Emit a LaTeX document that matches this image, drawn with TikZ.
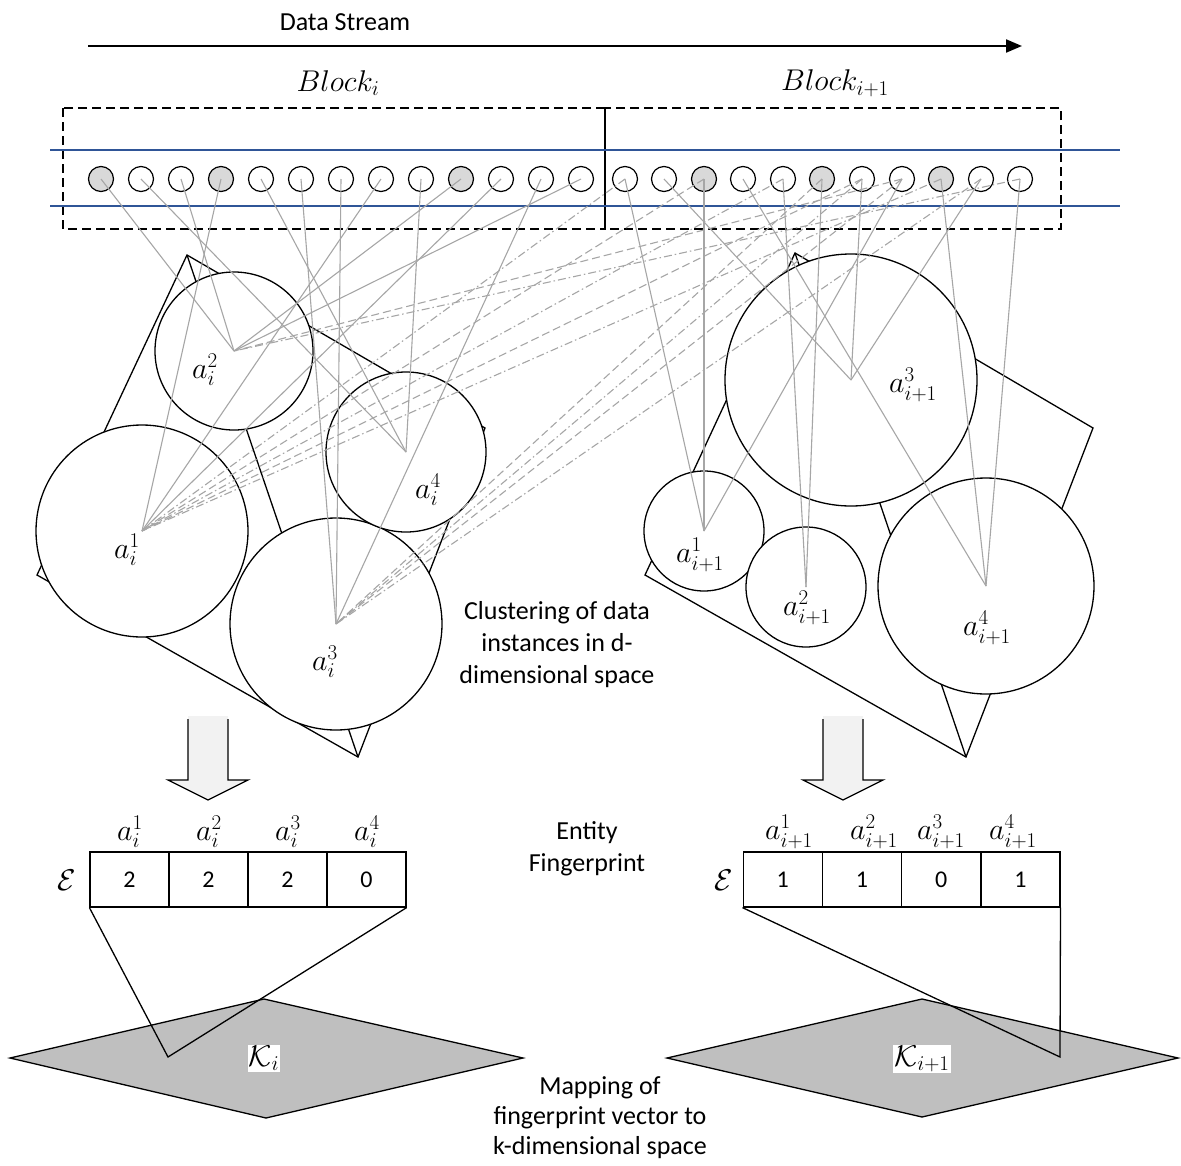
\RequirePackage{fix-cm}
\documentclass[tikz,border=0pt]{standalone}
\usepackage[no-math]{fontspec}
\setmainfont{Carlito}
\usetikzlibrary{arrows.meta,positioning}

\definecolor{linegray}{RGB}{166,166,166}
\definecolor{entgray}{RGB}{217,217,217}
\definecolor{kgray}{RGB}{191,191,191}
\definecolor{arrgray}{RGB}{242,242,242}
\definecolor{lineblue}{RGB}{47,85,151}

\begin{document}
\begin{tikzpicture}[x=1pt, y=-1pt, thick]

		\tikzstyle{inst}=[circle, draw, line width=1.2pt, fill=white, minimum size=25pt, inner sep=0pt]
		\tikzstyle{entity}=[inst, fill=entgray]
		\tikzstyle{clu}=[circle, draw, line width=1.3pt, fill=white, inner sep=0pt, outer sep=0pt]
		\tikzstyle{link}=[linegray, line width=1.1pt]
		\tikzstyle{maplink}=[linegray, line width=1.1pt, dash pattern=on 8pt off 4pt]
		\tikzstyle{mapdot}=[linegray, line width=1.1pt, dash pattern=on 8pt off 3pt on 1.5pt off 3pt]
		\tikzstyle{cell}=[rectangle, draw, line width=1.2pt, minimum width=79pt, minimum height=55pt, inner sep=0pt, font=\fontsize{24}{28}\selectfont]
		\tikzstyle{lab}=[inner sep=1pt, font=\fontsize{30}{34}\selectfont]
		\tikzstyle{txt}=[align=center, inner sep=0pt, font=\fontsize{26}{32}\selectfont]
		\tikzstyle{frame}=[line width=1.4pt, dash pattern=on 9pt off 5pt]

		\useasboundingbox (0,0) rectangle (1181,1165);

		% Stream arrow
		\node[txt] (ds) at (345,22) {Data Stream};
		\coordinate (s0) at (88,46);
		\coordinate (s1) at (1022,46);
		\draw[-{Triangle[length=16pt,width=13pt]}, line width=2pt] (s0) -- (s1);

		\node[lab] (b1) at (338,83) {$Block_i$};
		\node[lab] (b2) at (835,83) {$Block_{i+1}$};

		\draw[frame] (63,108) rectangle (605,229);
		\draw[frame] (605,108) rectangle (1061,229);
		\draw[lineblue, line width=1.2pt] (50,150) -- (1120,150);
		\draw[lineblue, line width=1.2pt] (50,206) -- (1120,206);

		% Block i instances
		\node[entity] (p1) at (101,179) {};
		\node[inst] (p2) at (141,179) {};
		\node[inst] (p3) at (181,179) {};
		\node[entity] (p4) at (221,179) {};
		\node[inst] (p5) at (261,179) {};
		\node[inst] (p6) at (301,179) {};
		\node[inst] (p7) at (341,179) {};
		\node[inst] (p8) at (381,179) {};
		\node[inst] (p9) at (421,179) {};
		\node[entity] (p10) at (461,179) {};
		\node[inst] (p11) at (501,179) {};
		\node[inst] (p12) at (541,179) {};
		\node[inst] (p13) at (581,179) {};

		% Block i+1 instances
		\node[inst] (q1) at (625,179) {};
		\node[inst] (q2) at (664,179) {};
		\node[entity] (q3) at (704,179) {};
		\node[inst] (q4) at (743,179) {};
		\node[inst] (q5) at (783,179) {};
		\node[entity] (q6) at (822,179) {};
		\node[inst] (q7) at (862,179) {};
		\node[inst] (q8) at (902,179) {};
		\node[entity] (q9) at (941,179) {};
		\node[inst] (q10) at (981,179) {};
		\node[inst] (q11) at (1020,179) {};

		% Cluster hulls
		\draw[line width=1.3pt] (187,255) -- (485,428) -- (358,757) -- (37,575) -- cycle;
		\draw[line width=1.3pt] (187,255) -- (358,757);
		\draw[line width=1.3pt] (795,253) -- (1093,428) -- (966,757) -- (645,575) -- cycle;
		\draw[line width=1.3pt] (795,253) -- (966,757);

		% Clusters of block i
		\node[clu, minimum size=212pt] (c1) at (142,531) {};
		\node[clu, minimum size=158pt] (c2) at (234,351) {};
		\node[clu, minimum size=212pt] (c3) at (336,624) {};
		\node[clu, minimum size=160pt] (c4) at (406,452) {};

		% Clusters of block i+1
		\node[clu, minimum size=120pt] (d1) at (704,531) {};
		\node[clu, minimum size=120pt] (d2) at (806,587) {};
		\node[clu, minimum size=252pt] (d3) at (851,380) {};
		\node[clu, minimum size=216pt] (d4) at (986,586) {};

		% Assignment links
		\draw[link] (p1.center) -- (c2.center);
		\draw[link] (p2.center) -- (c4.center);
		\draw[link] (p3.center) -- (c2.center);
		\draw[link] (p4.center) -- (c1.center);
		\draw[link] (p5.center) -- (c4.center);
		\draw[link] (p6.center) -- (c3.center);
		\draw[link] (p7.center) -- (c3.center);
		\draw[link] (p8.center) -- (c1.center);
		\draw[link] (p9.center) -- (c4.center);
		\draw[link] (p10.center) -- (c2.center);
		\draw[link] (p11.center) -- (c1.center);
		\draw[link] (p12.center) -- (c3.center);
		\draw[link] (p13.center) -- (c2.center);

		\draw[link] (q1.center) -- (d1.center);
		\draw[link] (q2.center) -- (d3.center);
		\draw[link] (q3.center) -- (d1.center);
		\draw[link] (q4.center) -- (d4.center);
		\draw[link] (q5.center) -- (d2.center);
		\draw[link] (q6.center) -- (d2.center);
		\draw[link] (q7.center) -- (d3.center);
		\draw[link] (q8.center) -- (d1.center);
		\draw[link] (q9.center) -- (d4.center);
		\draw[link] (q10.center) -- (d3.center);
		\draw[link] (q11.center) -- (d4.center);

		% Block i+1 mapped on clusters of block i
		\draw[mapdot] (q1.center) -- (c1.center);
		\draw[maplink] (q3.center) -- (c1.center);
		\draw[mapdot] (q5.center) -- (c1.center);
		\draw[maplink] (q7.center) -- (c1.center);
		\draw[mapdot] (q9.center) -- (c1.center);
		\draw[maplink] (q8.center) -- (c2.center);
		\draw[mapdot] (q11.center) -- (c2.center);
		\draw[maplink] (q6.center) -- (c3.center);
		\draw[mapdot] (q7.center) -- (c3.center);
		\draw[maplink] (q8.center) -- (c3.center);
		\draw[mapdot] (q10.center) -- (c3.center);

		% Cluster labels
		\node[lab] (l1) at (127,550) {$a_i^1$};
		\node[lab] (l2) at (205,370) {$a_i^2$};
		\node[lab] (l3) at (325,662) {$a_i^3$};
		\node[lab] (l4) at (428,490) {$a_i^4$};
		\node[lab] (m1) at (700,555) {$a_{i+1}^1$};
		\node[lab] (m2) at (807,608) {$a_{i+1}^2$};
		\node[lab] (m3) at (913,385) {$a_{i+1}^3$};
		\node[lab] (m4) at (987,628) {$a_{i+1}^4$};

		\node[txt] (cl) at (557,645) {Clustering of data\\instances in d-\\dimensional space};

		% Block arrows
		\fill[arrgray] (188,716) -- (188,780) -- (168,780) -- (208,800) -- (248,780) -- (228,780) -- (228,716) -- cycle;
		\draw[line width=1.3pt] (188,719) -- (188,780) -- (168,780) -- (208,800) -- (248,780) -- (228,780) -- (228,719);
		\fill[arrgray] (823,716) -- (823,780) -- (803,780) -- (843,800) -- (883,780) -- (863,780) -- (863,716) -- cycle;
		\draw[line width=1.3pt] (823,719) -- (823,780) -- (803,780) -- (843,800) -- (883,780) -- (863,780) -- (863,719);

		% Fingerprints
		\node[cell] (e1) at (129.5,879.5) {2};
		\node[cell] (e2) at (208.5,879.5) {2};
		\node[cell] (e3) at (287.5,879.5) {2};
		\node[cell] (e4) at (366.5,879.5) {0};
		\node[lab] (h1) at (130,832) {$a_i^1$};
		\node[lab] (h2) at (209,832) {$a_i^2$};
		\node[lab] (h3) at (288,832) {$a_i^3$};
		\node[lab] (h4) at (367,832) {$a_i^4$};
		\node[lab] (E1) at (67,880) {$\mathcal{E}$};

		\node[cell] (f1) at (782.6,879.5) {1};
		\node[cell] (f2) at (861.9,879.5) {1};
		\node[cell] (f3) at (941.1,879.5) {0};
		\node[cell] (f4) at (1020.4,879.5) {1};
		\node[lab] (g1) at (789,832) {$a_{i+1}^1$};
		\node[lab] (g2) at (874,832) {$a_{i+1}^2$};
		\node[lab] (g3) at (941,832) {$a_{i+1}^3$};
		\node[lab] (g4) at (1013,832) {$a_{i+1}^4$};
		\node[lab] (E2) at (724,880) {$\mathcal{E}$};

		\node[txt] (ef) at (587,849) {Entity\\Fingerprint};

		% k-dimensional spaces
		\filldraw[fill=kgray, line width=1.3pt] (10,1058) -- (264,999) -- (523,1058) -- (266,1118) -- cycle;
		\filldraw[fill=kgray, line width=1.3pt] (667,1058) -- (922,999) -- (1178,1058) -- (922,1117) -- cycle;
		\node[lab, fill=white] (K1) at (264,1058) {$\mathcal{K}_i$};
		\node[lab, fill=white] (K2) at (922,1059) {$\mathcal{K}_{i+1}$};

		\coordinate (v1) at (168,1057);
		\coordinate (v2) at (1060,1057);
		\draw[line width=1.3pt] (e1.south west) -- (v1) -- (e4.south east);
		\draw[line width=1.3pt] (f1.south west) -- (v2) -- (f4.south east);

		\node[txt, font=\fontsize{26}{30}\selectfont] (mp) at (600,1118) {Mapping of\\fingerprint vector to\\k-dimensional space};

\end{tikzpicture}
\end{document}
